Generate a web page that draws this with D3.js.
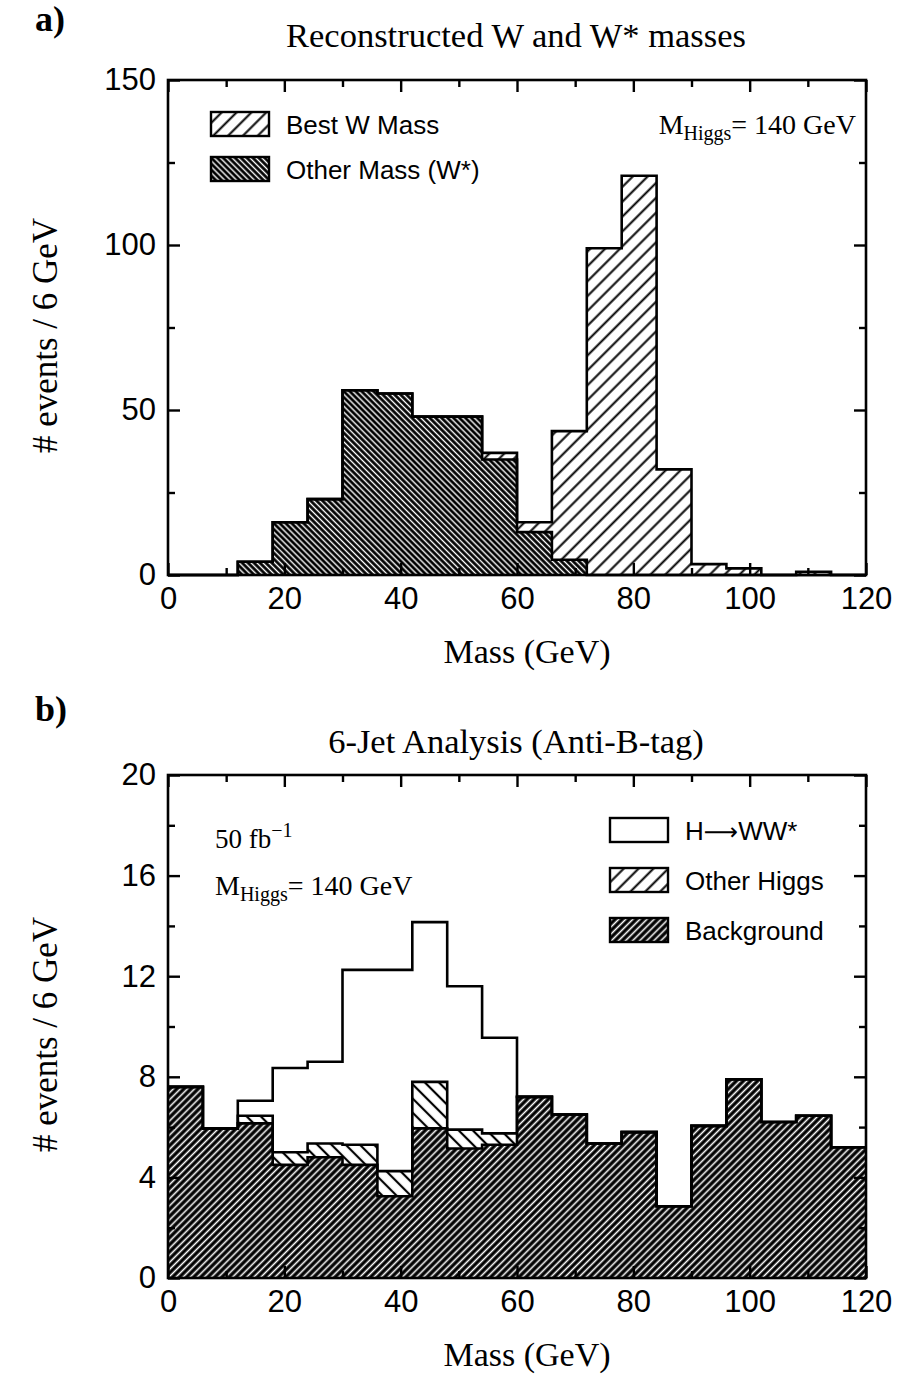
<!DOCTYPE html>
<html>
<head>
<meta charset="utf-8">
<script src="https://cdn.jsdelivr.net/npm/d3@7"></script>
<style>
body { margin: 0; background: #fff; }
svg text { fill: #000; }
.tick text { font-family: "Liberation Sans", Arial, sans-serif; font-size: 31px; }
.serif { font-family: "Liberation Serif", "Times New Roman", serif; }
.sans { font-family: "Liberation Sans", Arial, sans-serif; }
</style>
</head>
<body>
<svg id="chart" width="898" height="1383"></svg>
<script>
// bin edges, 6 GeV bins
const binEdges = [0,6,12,18,24,30,36,42,48,54,60,66,72,78,84,90,96,102,108,114,120]

// panel a) : stacked, W* below, best W on top
const otherMass = [0,0,4,16,23,56,55,48,48,35,13,4.6,0,0,0,0,0,0,0,0]
const bestW     = [0,0,0,0,0,0,0,0,0,2,3,39,99,121,32,3.3,2,0,1,0]

// panel b) : stacked background, other higgs, H->WW*
const background = [7.6,5.95,6.15,4.5,4.8,4.5,3.25,5.95,5.15,5.3,7.2,6.5,5.35,5.8,2.85,6.05,7.9,6.2,6.45,5.2]
const otherHiggs = [0,0,0.3,0.5,0.55,0.8,1.0,1.85,0.75,0.45,0,0,0,0,0,0,0,0,0,0]
const hww        = [0,0,0.6,3.35,3.25,6.95,8.0,6.35,5.7,3.8,0,0,0,0,0,0,0,0,0,0]

const xTicks = [0,20,40,60,80,100,120]
const xMinor = [10,30,50,70,90,110]
const yTicksA = [0,50,100,150]
const yMinorA = [25,75,125]
const yTicksB = [0,4,8,12,16,20]
const yMinorB = [2,6,10,14,18]

var svg = d3.select("#chart")

// hatch patterns
var defs = svg.append("defs")
function hatch(id, size, angle, bg, fg, lw){
  var p = defs.append("pattern")
    .attr("id", id)
    .attr("patternUnits", "userSpaceOnUse")
    .attr("width", size).attr("height", size)
    .attr("patternTransform", "rotate(" + angle + ")")
  p.append("rect").attr("width", size).attr("height", size).attr("fill", bg)
  p.append("line").attr("x1", size/2).attr("x2", size/2).attr("y1", -1).attr("y2", size+1)
    .attr("stroke", fg).attr("stroke-width", lw)
}
hatch("lightFwd", 10.5, 45, "#fff", "#000", 2)     // best W, other higgs legend
hatch("darkBack", 4.2, -45, "#000", "#fff", 1.4)   // W*
hatch("darkFwd", 5, 45, "#000", "#fff", 1.6)       // background
hatch("lightBack", 10, -45, "#fff", "#000", 2.2)   // other higgs bars

var x = d3.scaleLinear().domain([0,120]).range([168,866])

function stepData(lower, upper){
  // one point per edge, last value repeated for the step curve
  let pts = []
  for (let i=0;i<binEdges.length;i++){
    let j = Math.min(i, lower.length-1)
    pts.push({x: binEdges[i], y0: lower[j], y1: upper[j]})
  }
  return pts
}

function drawPanel(g, y, layers, yTicks, yMinor){
  var area = d3.area().curve(d3.curveStepAfter)
    .x(d => x(d.x)).y0(d => y(d.y0)).y1(d => y(d.y1))
  var line = d3.line().curve(d3.curveStepAfter)
    .x(d => x(d.x)).y(d => y(d.y1))
  layers.forEach(function(l){
    let pts = stepData(l.lower, l.upper)
    g.append("path").datum(pts).attr("d", area).attr("fill", l.fill)
  })
  layers.forEach(function(l){
    let pts = stepData(l.lower, l.upper)
    g.append("path").datum(pts).attr("d", line)
      .attr("fill", "none").attr("stroke", "#000").attr("stroke-width", 2.6)
  })

  var y0 = y.range()[0], y1 = y.range()[1]
  // frame
  g.append("rect").attr("x", x(0)).attr("y", y1)
    .attr("width", x(120)-x(0)).attr("height", y0-y1)
    .attr("fill", "none").attr("stroke", "#000").attr("stroke-width", 2.6)

  // axes, ticks pointing inwards
  g.append("g").attr("transform", "translate(0," + y0 + ")")
    .call(d3.axisBottom(x).tickValues(xTicks).tickSize(-12).tickPadding(12).tickFormat(d3.format("d")))
  g.append("g").attr("transform", "translate(0," + y0 + ")")
    .call(d3.axisBottom(x).tickValues(xMinor).tickSize(-7).tickFormat(""))
  g.append("g").attr("transform", "translate(0," + y1 + ")")
    .call(d3.axisTop(x).tickValues(xTicks).tickSize(-12).tickFormat(""))
  g.append("g").attr("transform", "translate(0," + y1 + ")")
    .call(d3.axisTop(x).tickValues(xMinor).tickSize(-7).tickFormat(""))
  g.append("g").attr("transform", "translate(" + x(0) + ",0)")
    .call(d3.axisLeft(y).tickValues(yTicks).tickSize(-12).tickPadding(12).tickFormat(d3.format("d")))
  g.append("g").attr("transform", "translate(" + x(0) + ",0)")
    .call(d3.axisLeft(y).tickValues(yMinor).tickSize(-7).tickFormat(""))
  g.append("g").attr("transform", "translate(" + x(120) + ",0)")
    .call(d3.axisRight(y).tickValues(yTicks).tickSize(-12).tickFormat(""))
  g.append("g").attr("transform", "translate(" + x(120) + ",0)")
    .call(d3.axisRight(y).tickValues(yMinor).tickSize(-7).tickFormat(""))
  g.selectAll(".domain").remove()
  g.selectAll(".tick line").attr("stroke-width", 2.4)
  g.selectAll(".tick text").attr("fill", "#000")

  g.append("text").attr("class", "serif")
    .attr("x", 527).attr("y", y0 + 88)
    .attr("text-anchor", "middle").attr("font-size", 34).text("Mass (GeV)")
  g.append("text").attr("class", "serif")
    .attr("transform", "translate(57," + ((y0+y1)/2 + 8) + ") rotate(-90)")
    .attr("text-anchor", "middle").attr("font-size", 35).text("# events / 6 GeV")
}

function swatch(g, x0, y0, fill, label){
  g.append("rect").attr("x", x0).attr("y", y0).attr("width", 58).attr("height", 24)
    .attr("fill", fill).attr("stroke", "#000").attr("stroke-width", 2.4)
  return g.append("text").attr("class", "sans").attr("x", x0 + 75).attr("y", y0 + 22)
    .attr("font-size", 26).text(label)
}

function higgsLabel(g, x0, y0, anchor){
  var t = g.append("text").attr("class", "serif").attr("x", x0).attr("y", y0)
    .attr("font-size", 28).attr("text-anchor", anchor)
  t.append("tspan").text("M")
  t.append("tspan").attr("font-size", 20).attr("dy", 6).text("Higgs")
  t.append("tspan").attr("dy", -6).text("= 140 GeV")
}

// ---- panel a)
var ga = svg.append("g")
var ya = d3.scaleLinear().domain([0,150]).range([575,80])
var totalA = otherMass.map((v,i) => v + bestW[i])
drawPanel(ga, ya, [
  {lower: otherMass, upper: totalA, fill: "url(#lightFwd)"},
  {lower: otherMass.map(() => 0), upper: otherMass, fill: "url(#darkBack)"}
], yTicksA, yMinorA)
ga.append("text").attr("class", "serif").attr("x", 35).attr("y", 31)
  .attr("font-size", 36).attr("font-weight", "bold").text("a)")
ga.append("text").attr("class", "serif").attr("x", 516).attr("y", 47)
  .attr("text-anchor", "middle").attr("font-size", 34.5).text("Reconstructed W and W* masses")
swatch(ga, 211, 112, "url(#lightFwd)", "Best W Mass")
swatch(ga, 211, 157, "url(#darkBack)", "Other Mass (W*)")
higgsLabel(ga, 856, 134, "end")

// ---- panel b)
var gb = svg.append("g")
var yb = d3.scaleLinear().domain([0,20]).range([1278,775])
var stack2 = background.map((v,i) => v + otherHiggs[i])
var totalB = stack2.map((v,i) => v + hww[i])
drawPanel(gb, yb, [
  {lower: stack2, upper: totalB, fill: "#fff"},
  {lower: background, upper: stack2, fill: "url(#lightBack)"},
  {lower: background.map(() => 0), upper: background, fill: "url(#darkFwd)"}
], yTicksB, yMinorB)
gb.append("text").attr("class", "serif").attr("x", 35).attr("y", 721)
  .attr("font-size", 36).attr("font-weight", "bold").text("b)")
gb.append("text").attr("class", "serif").attr("x", 516).attr("y", 753)
  .attr("text-anchor", "middle").attr("font-size", 34.5).text("6-Jet Analysis (Anti-B-tag)")
var hl = swatch(gb, 610, 818, "#fff", "")
hl.append("tspan").text("H")
hl.append("tspan").attr("font-family", "DejaVu Sans").attr("font-size", 24).text("\u27F6")
hl.append("tspan").text("WW*")
swatch(gb, 610, 868, "url(#lightFwd)", "Other Higgs")
swatch(gb, 610, 918, "url(#darkFwd)", "Background")
var lum = gb.append("text").attr("class", "serif").attr("x", 215).attr("y", 848).attr("font-size", 27)
lum.append("tspan").text("50 fb")
lum.append("tspan").attr("font-size", 20).attr("dy", -11).text("\u22121")
higgsLabel(gb, 215, 895, "start")
</script>
</body>
</html>
